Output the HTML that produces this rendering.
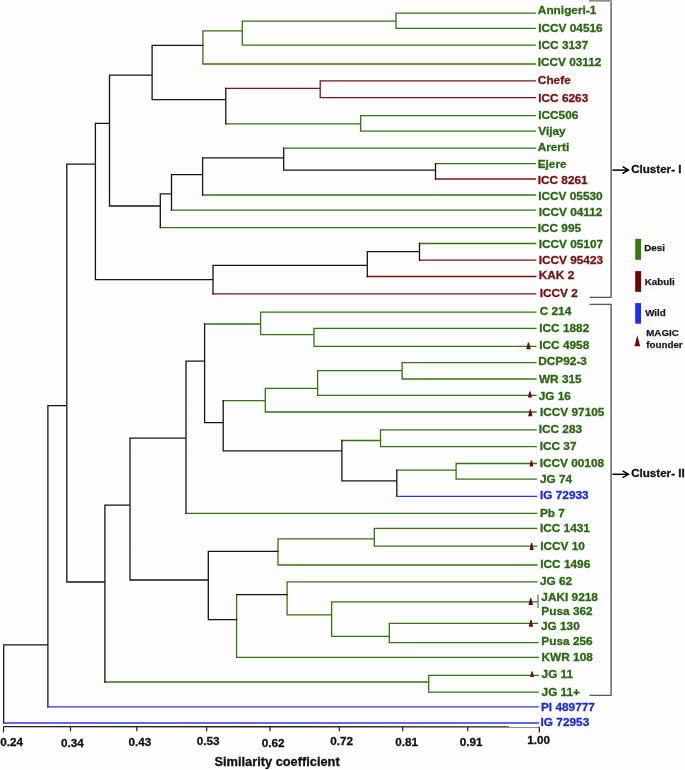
<!DOCTYPE html>
<html><head><meta charset="utf-8"><title>Dendrogram</title>
<style>
html,body{margin:0;padding:0;background:#fdfdfd;}
body{width:685px;height:770px;overflow:hidden;}
svg{display:block;will-change:transform;}
text{font-family:"Liberation Sans",sans-serif;font-weight:bold;}
</style></head><body>
<svg width="685" height="770" viewBox="0 0 685 770">
<rect x="0" y="0" width="685" height="770" fill="#fdfdfd"/>
<path d="M396 13.2L396 28.3M396 13.2L535.2 13.2M396 28.3L535.22 28.3M242.3 21.1L242.3 45.2M242.3 21.1L396 21.1M242.3 45.2L535.25 45.2M202.9 30.8L202.9 64M202.9 30.8L242.3 30.8M202.9 64L535.28 64M360.7 115.6L360.7 131.2M360.7 115.6L535.36 115.6M360.7 131.2L535.39 131.2M225.8 123.8L360.7 123.8M435.5 163.6L535.44 163.6M283.7 148.1L535.42 148.1M202.6 195L535.49 195M171.5 210.2L535.53 210.2M160.3 227.6L535.57 227.6M419.5 243.5L535.61 243.5M186 513.3L536.57 513.3M260.6 312.1L260.6 334.7M204.6 324L260.6 324M260.6 312.1L535.78 312.1M314 328.4L314 346.3M260.6 334.7L314 334.7M314 328.4L535.82 328.4M314 346.3L535.87 346.3M265.3 388.4L265.3 412M223.2 400.6L265.3 400.6M265.3 412L536.06 412M317.6 370.7L317.6 395.3M265.3 388.4L317.6 388.4M317.6 395.3L535.99 395.3M402.1 362.6L402.1 379M317.6 370.7L402.1 370.7M402.1 362.6L535.91 362.6M402.1 379L535.95 379M380.5 429.9L380.5 446.7M341.9 440.5L380.5 440.5M380.5 429.9L536.15 429.9M380.5 446.7L536.23 446.7M456.1 463.5L456.1 479.1M396.8 470.2L456.1 470.2M456.1 463.5L536.32 463.5M456.1 479.1L536.4 479.1M278 538.9L278 565M374.3 528.4L374.3 546.2M278 538.9L374.3 538.9M374.3 528.4L536.64 528.4M374.3 546.2L536.73 546.2M278 565L536.83 565M236.6 594.7L236.6 657.4M287.1 581.9L287.1 614.8M287.1 581.9L536.91 581.9M331.6 601.8L331.6 636.4M287.1 614.8L331.6 614.8M331.6 601.8L537.04 601.8M389.3 623.4L389.3 642.6M331.6 636.4L389.3 636.4M389.3 623.4L537.55 623.4M389.3 642.6L537.99 642.6M236.6 657.4L538.34 657.4M428.7 675.4L428.7 692.1M104.9 682L428.7 682M428.7 675.4L538.33 675.4M428.7 692.1L538.25 692.1" stroke="#35730f" stroke-width="1.3" fill="none" stroke-linecap="square" stroke-linejoin="round"/>
<path d="M320.2 80.8L320.2 97.6M320.2 80.8L535.31 80.8M320.2 97.6L535.34 97.6M225.8 88.3L320.2 88.3M435.5 179L535.47 179M419.5 260.1L535.65 260.1M367.3 276.5L535.69 276.5M213 293.9L535.73 293.9" stroke="#7c1414" stroke-width="1.3" fill="none" stroke-linecap="square" stroke-linejoin="round"/>
<path d="M225.8 88.3L225.8 123.8M152.1 45.3L152.1 99.7M152.1 45.3L202.9 45.3M152.1 99.7L225.8 99.7M435.5 163.6L435.5 179M283.7 148.1L283.7 170.2M283.7 170.2L435.5 170.2M202.6 157.8L202.6 195M202.6 157.8L283.7 157.8M171.5 174.6L171.5 210.2M171.5 174.6L202.6 174.6M160.3 193.8L160.3 227.6M160.3 193.8L171.5 193.8M109.5 75.1L109.5 206M109.5 75.1L152.1 75.1M109.5 206L160.3 206M419.5 243.5L419.5 260.1M367.3 251.7L367.3 276.5M367.3 251.7L419.5 251.7M213 265.3L213 293.9M213 265.3L367.3 265.3M95.4 123.3L95.4 279.7M95.4 123.3L109.5 123.3M95.4 279.7L213 279.7M66.8 164.2L66.8 582M66.8 164.2L95.4 164.2M47.9 405.6L47.9 706.8M47.9 405.6L66.8 405.6M3.7 644.8L3.7 723M3.7 644.8L47.9 644.8M104.9 505.2L104.9 682M66.8 582L104.9 582M130 438.1L130 580M104.9 505.2L130 505.2M186 361.1L186 513.3M130 438.1L186 438.1M204.6 324L204.6 422.7M186 361.1L204.6 361.1M223.2 400.6L223.2 450.9M204.6 422.7L223.2 422.7M341.9 440.5L341.9 480.8M223.2 450.9L341.9 450.9M396.8 470.2L396.8 496.3M341.9 480.8L396.8 480.8M208.3 551.4L208.3 619.6M130 580L208.3 580M208.3 551.4L278 551.4M208.3 619.6L236.6 619.6M236.6 594.7L287.1 594.7" stroke="#161616" stroke-width="1.3" fill="none" stroke-linecap="square" stroke-linejoin="round"/>
<path d="M47.9 706.8L538.18 706.8M396.8 496.3L536.48 496.3" stroke="#2b37e6" stroke-width="1.3" fill="none" stroke-linecap="square" stroke-linejoin="round"/>
<path d="M3.7 723L538.1 723" stroke="#2b37e6" stroke-width="1.7" fill="none" stroke-linecap="square" stroke-linejoin="round"/>
<path d="M538 594.7L538 607.9" stroke="#5a5f78" stroke-width="1.2"/>
<path d="M527.9 342.4L529.1 342.4L530.75 349.3L526.25 349.3Z" fill="#6e0a0a"/>
<path d="M529.35 391.4L530.55 391.4L532.05 397.5L527.85 397.5Z" fill="#6e0a0a"/>
<path d="M529.7 409.4L530.9 409.4L532.45 416.2L528.15 416.2Z" fill="#6e0a0a"/>
<path d="M530.85 460.6L532.05 460.6L533.35 466.6L529.55 466.6Z" fill="#6e0a0a"/>
<path d="M531.05 543.1L532.25 543.1L533.75 549.9L529.55 549.9Z" fill="#6e0a0a"/>
<path d="M530.15 598.2L531.35 598.2L533.05 604.9L528.45 604.9Z" fill="#6e0a0a"/>
<path d="M530.35 619.9L531.55 619.9L533.05 626.7L528.85 626.7Z" fill="#6e0a0a"/>
<path d="M531.45 671.4L532.65 671.4L533.95 677.1L530.15 677.1Z" fill="#6e0a0a"/>
<text transform="translate(537.85 13.9) scale(1.03 1)" font-size="11.5" fill="#2b6613" stroke="#2b6613" stroke-width="0.3">Annigeri-1</text>
<text transform="translate(538.25 31.5) scale(1.03 1)" font-size="11.5" fill="#2b6613" stroke="#2b6613" stroke-width="0.3">ICCV 04516</text>
<text transform="translate(538.25 48.7) scale(1.03 1)" font-size="11.5" fill="#2b6613" stroke="#2b6613" stroke-width="0.3">ICC 3137</text>
<text transform="translate(537.65 66.1) scale(1.03 1)" font-size="11.5" fill="#2b6613" stroke="#2b6613" stroke-width="0.3">ICCV 03112</text>
<text transform="translate(537.85 83.5) scale(1.03 1)" font-size="11.5" fill="#731212" stroke="#731212" stroke-width="0.3">Chefe</text>
<text transform="translate(538.25 101.8) scale(1.03 1)" font-size="11.5" fill="#731212" stroke="#731212" stroke-width="0.3">ICC 6263</text>
<text transform="translate(538.25 118.6) scale(1.03 1)" font-size="11.5" fill="#2b6613" stroke="#2b6613" stroke-width="0.3">ICC506</text>
<text transform="translate(538.25 135) scale(1.03 1)" font-size="11.5" fill="#2b6613" stroke="#2b6613" stroke-width="0.3">Vijay</text>
<text transform="translate(537.65 151.1) scale(1.03 1)" font-size="11.5" fill="#2b6613" stroke="#2b6613" stroke-width="0.3">Arerti</text>
<text transform="translate(537.65 167.9) scale(1.03 1)" font-size="11.5" fill="#2b6613" stroke="#2b6613" stroke-width="0.3">Ejere</text>
<text transform="translate(537.65 184.3) scale(1.03 1)" font-size="11.5" fill="#731212" stroke="#731212" stroke-width="0.3">ICC 8261</text>
<text transform="translate(538.25 199.5) scale(1.03 1)" font-size="11.5" fill="#2b6613" stroke="#2b6613" stroke-width="0.3">ICCV 05530</text>
<text transform="translate(538.65 216.2) scale(1.03 1)" font-size="11.5" fill="#2b6613" stroke="#2b6613" stroke-width="0.3">ICCV 04112</text>
<text transform="translate(537.65 231.6) scale(1.03 1)" font-size="11.5" fill="#2b6613" stroke="#2b6613" stroke-width="0.3">ICC 995</text>
<text transform="translate(538.65 248.2) scale(1.03 1)" font-size="11.5" fill="#2b6613" stroke="#2b6613" stroke-width="0.3">ICCV 05107</text>
<text transform="translate(538.65 264.2) scale(1.03 1)" font-size="11.5" fill="#731212" stroke="#731212" stroke-width="0.3">ICCV 95423</text>
<text transform="translate(538.75 279.3) scale(1.03 1)" font-size="11.5" fill="#731212" stroke="#731212" stroke-width="0.3">KAK 2</text>
<text transform="translate(539.65 297.2) scale(1.03 1)" font-size="11.5" fill="#731212" stroke="#731212" stroke-width="0.3">ICCV 2</text>
<text transform="translate(539.65 315.2) scale(1.03 1)" font-size="11.5" fill="#2b6613" stroke="#2b6613" stroke-width="0.3">C 214</text>
<text transform="translate(539.25 331.6) scale(1.03 1)" font-size="11.5" fill="#2b6613" stroke="#2b6613" stroke-width="0.3">ICC 1882</text>
<text transform="translate(539.25 348.7) scale(1.03 1)" font-size="11.5" fill="#2b6613" stroke="#2b6613" stroke-width="0.3">ICC 4958</text>
<text transform="translate(538.25 365.1) scale(1.03 1)" font-size="11.5" fill="#2b6613" stroke="#2b6613" stroke-width="0.3">DCP92-3</text>
<text transform="translate(538.95 383.2) scale(1.03 1)" font-size="11.5" fill="#2b6613" stroke="#2b6613" stroke-width="0.3">WR 315</text>
<text transform="translate(538.65 399.7) scale(1.03 1)" font-size="11.5" fill="#2b6613" stroke="#2b6613" stroke-width="0.3">JG 16</text>
<text transform="translate(539.95 415.9) scale(1.03 1)" font-size="11.5" fill="#2b6613" stroke="#2b6613" stroke-width="0.3">ICCV 97105</text>
<text transform="translate(538.65 432.8) scale(1.03 1)" font-size="11.5" fill="#2b6613" stroke="#2b6613" stroke-width="0.3">ICC 283</text>
<text transform="translate(539.65 449.5) scale(1.03 1)" font-size="11.5" fill="#2b6613" stroke="#2b6613" stroke-width="0.3">ICC 37</text>
<text transform="translate(539.65 466.9) scale(1.03 1)" font-size="11.5" fill="#2b6613" stroke="#2b6613" stroke-width="0.3">ICCV 00108</text>
<text transform="translate(539.95 483.4) scale(1.03 1)" font-size="11.5" fill="#2b6613" stroke="#2b6613" stroke-width="0.3">JG 74</text>
<text transform="translate(539.95 498.5) scale(1.03 1)" font-size="11.5" fill="#1d2cd0" stroke="#1d2cd0" stroke-width="0.3">IG 72933</text>
<text transform="translate(539.95 516.5) scale(1.03 1)" font-size="11.5" fill="#2b6613" stroke="#2b6613" stroke-width="0.3">Pb 7</text>
<text transform="translate(539.95 531.6) scale(1.03 1)" font-size="11.5" fill="#2b6613" stroke="#2b6613" stroke-width="0.3">ICC 1431</text>
<text transform="translate(540.25 550.1) scale(1.03 1)" font-size="11.5" fill="#2b6613" stroke="#2b6613" stroke-width="0.3">ICCV 10</text>
<text transform="translate(540.25 567.7) scale(1.03 1)" font-size="11.5" fill="#2b6613" stroke="#2b6613" stroke-width="0.3">ICC 1496</text>
<text transform="translate(539.95 584.9) scale(1.03 1)" font-size="11.5" fill="#2b6613" stroke="#2b6613" stroke-width="0.3">JG 62</text>
<text transform="translate(541.35 600.9) scale(1.03 1)" font-size="11.5" fill="#2b6613" stroke="#2b6613" stroke-width="0.3">JAKI 9218</text>
<text transform="translate(541.35 614.7) scale(1.03 1)" font-size="11.5" fill="#2b6613" stroke="#2b6613" stroke-width="0.3">Pusa 362</text>
<text transform="translate(540.95 629.8) scale(1.03 1)" font-size="11.5" fill="#2b6613" stroke="#2b6613" stroke-width="0.3">JG 130</text>
<text transform="translate(541.35 645) scale(1.03 1)" font-size="11.5" fill="#2b6613" stroke="#2b6613" stroke-width="0.3">Pusa 256</text>
<text transform="translate(541.55 661) scale(1.03 1)" font-size="11.5" fill="#2b6613" stroke="#2b6613" stroke-width="0.3">KWR 108</text>
<text transform="translate(541.55 677.8) scale(1.03 1)" font-size="11.5" fill="#2b6613" stroke="#2b6613" stroke-width="0.3">JG 11</text>
<text transform="translate(541.55 695.5) scale(1.03 1)" font-size="11.5" fill="#2b6613" stroke="#2b6613" stroke-width="0.3">JG 11+</text>
<text transform="translate(540.95 711.3) scale(1.03 1)" font-size="11.5" fill="#1d2cd0" stroke="#1d2cd0" stroke-width="0.3">PI 489777</text>
<text transform="translate(540.55 726) scale(1.03 1)" font-size="11.5" fill="#1d2cd0" stroke="#1d2cd0" stroke-width="0.3">IG 72953</text>
<rect x="589" y="0" width="22.6" height="1.7" fill="#8e8e8e"/>
<path d="M611.1 1.5L611.1 297.4L589.5 297.4" stroke="#555555" stroke-width="1.35" fill="none" stroke-linejoin="round"/>
<path d="M589.5 304.3L611.1 304.3L611.1 695.3L589.5 695.3" stroke="#555555" stroke-width="1.35" fill="none" stroke-linejoin="round"/>
<path d="M612.4 170.1L628 170.1" stroke="#000" stroke-width="1.5"/>
<path d="M622.6 166.7L628.4 170.1L622.6 173.5" stroke="#000" stroke-width="1.5" fill="none"/>
<path d="M612.4 474.3L628 474.3" stroke="#000" stroke-width="1.5"/>
<path d="M622.6 470.9L628.4 474.3L622.6 477.7" stroke="#000" stroke-width="1.5" fill="none"/>
<text x="631.2" y="173" font-size="11.6" fill="#111" stroke="#111" stroke-width="0.3">Cluster- I</text>
<text x="631.2" y="477" font-size="11.6" fill="#111" stroke="#111" stroke-width="0.3">Cluster- II</text>
<rect x="635.2" y="238.8" width="5.9" height="21" fill="#3b7413"/>
<rect x="635.2" y="271.1" width="5.9" height="20.7" fill="#6b0606"/>
<rect x="635.2" y="303.1" width="5.8" height="20.6" fill="#1f2ee8"/>
<path d="M637.3 335.3L640.2 346.2L634.5 346.2Z" fill="#6e0a0a"/>
<text x="644.3" y="251.1" font-size="9.8" fill="#1a1a1a" stroke="#1a1a1a" stroke-width="0.25">Desi</text>
<text x="644.8" y="284.8" font-size="9.8" fill="#1a1a1a" stroke="#1a1a1a" stroke-width="0.25">Kabuli</text>
<text x="645.2" y="316.1" font-size="9.8" fill="#1a1a1a" stroke="#1a1a1a" stroke-width="0.25">Wild</text>
<text x="646.2" y="336.1" font-size="9.8" fill="#1a1a1a" stroke="#1a1a1a" stroke-width="0.25">MAGIC</text>
<text x="646.2" y="347.9" font-size="9.8" fill="#1a1a1a" stroke="#1a1a1a" stroke-width="0.25">founder</text>
<path d="M3.4 726.6L539.5 726.9" stroke="#222" stroke-width="1.3" fill="none"/>
<path d="M3.5 726.7L3.5 732.4M70.5 726.7L70.5 731.2M136.8 726.7L136.8 731.2M206.7 726.7L206.7 731.2M270 726.7L270 731.2M339.3 726.7L339.3 731.2M402.7 726.7L402.7 731.2M467.8 726.7L467.8 731.2M539.3 726.7L539.3 732.4" stroke="#222" stroke-width="1.2" fill="none"/>
<text x="0.2" y="746.1" font-size="11.7" fill="#111" stroke="#111" stroke-width="0.3">0.24</text>
<text x="60.9" y="746.8" font-size="11.7" fill="#111" stroke="#111" stroke-width="0.3">0.34</text>
<text x="128.6" y="746.1" font-size="11.7" fill="#111" stroke="#111" stroke-width="0.3">0.43</text>
<text x="196.7" y="745.3" font-size="11.7" fill="#111" stroke="#111" stroke-width="0.3">0.53</text>
<text x="261.7" y="746.5" font-size="11.7" fill="#111" stroke="#111" stroke-width="0.3">0.62</text>
<text x="330.2" y="745.3" font-size="11.7" fill="#111" stroke="#111" stroke-width="0.3">0.72</text>
<text x="395.2" y="745.6" font-size="11.7" fill="#111" stroke="#111" stroke-width="0.3">0.81</text>
<text x="459.8" y="745.6" font-size="11.7" fill="#111" stroke="#111" stroke-width="0.3">0.91</text>
<text x="527.3" y="744.4" font-size="11.7" fill="#111" stroke="#111" stroke-width="0.3">1.00</text>
<text x="214.5" y="766" font-size="12.8" fill="#111" stroke="#111" stroke-width="0.3">Similarity coefficient</text>
</svg>
</body></html>
